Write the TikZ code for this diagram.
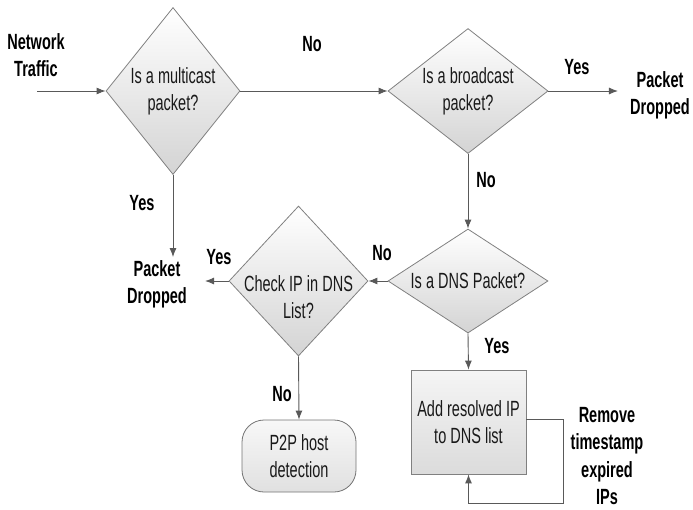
\documentclass[tikz,border=0pt]{standalone}
\usepackage{fontspec}
\setmainfont[FakeStretch=0.66]{Liberation Sans}
\usetikzlibrary{shapes.geometric,arrows.meta}
\begin{document}
\begin{tikzpicture}[x=1pt,y=-1pt,
  txt/.style={font=\fontsize{22}{27}\selectfont, text=black!90, align=center},
  dec/.style={diamond, txt, draw=black!50, line width=0.8pt, top color=white, bottom color=black!17, inner sep=-6pt},
  boxst/.style={rectangle, txt, draw=black!50, line width=0.8pt, top color=black!4, bottom color=black!14, inner sep=0pt},
  endst/.style={rectangle, txt, rounded corners=22pt, draw=black!55, line width=0.8pt, top color=black!3, bottom color=black!12, inner sep=0pt},
  lab/.style={font=\fontsize{22}{27}\selectfont\bfseries, text=black, align=center, inner sep=0pt},
  arr/.style={draw=black!65, line width=0.9pt, -{Latex[length=9pt,width=7pt]}}
]
\useasboundingbox (0,0) rectangle (693,509);

% decisions
\node[dec, aspect=0.8, minimum width=134pt, minimum height=167pt] (d1) at (173,91) {Is a multicast\\packet?};
\node[dec, aspect=1.28, minimum width=160pt, minimum height=125pt] (d2) at (468,91) {Is a broadcast\\packet?};
\node[dec, aspect=1.54, minimum width=160pt, minimum height=104pt] (d3) at (468,281) {Is a DNS Packet?};
\node[dec, aspect=0.93, minimum width=139pt, minimum height=150pt, inner xsep=-10pt, inner ysep=-15pt] (d4) at (298.5,281) {\rule{0pt}{48pt}Check IP in DNS\\List?};

% process boxes
\node[boxst, minimum width=115pt, minimum height=104pt] (add) at (468.5,422) {Add resolved IP\\to DNS list};
\node[endst, minimum width=114pt, minimum height=72pt] (p2p) at (299,456) {P2P host\\detection};

% text nodes
\node[lab] (net) at (36,55) {Network\\Traffic};
\node[lab, inner xsep=12pt, inner ysep=0pt] (pd1) at (660,95.5) {Packet\\Dropped};
\node[lab, inner xsep=18pt, inner ysep=3pt] (pd2) at (157,284) {Packet\\Dropped};
\node[lab, font=\fontsize{22}{27.5}\selectfont\bfseries] (rem) at (607,456) {Remove\\timestamp\\expired\\IPs};

% yes/no labels
\node[lab] (no1) at (312,44) {No};
\node[lab] (yes1) at (142,203) {Yes};
\node[lab] (yes2) at (577,67) {Yes};
\node[lab] (no2) at (486,180) {No};
\node[lab] (no3) at (382,253) {No};
\node[lab] (yes3) at (219,257) {Yes};
\node[lab] (no4) at (282,394) {No};
\node[lab] (yes4) at (497,346) {Yes};

% connectors
\coordinate (in) at (37,91);
\draw[arr] (in) -- (d1.west);
\draw[arr] (d1.east) -- (d2.west);
\draw[arr] (d2.east) -- (pd1.west |- d2.east);
\draw[arr] (d1.south) -- (d1.south |- pd2.north);
\draw[arr] (d2.south) -- (d3.north);
\draw[arr] (d3.west) -- (d4.east);
\draw[arr] (d4.west) -- (pd2.east |- d4.west);
\draw[arr] (d4.south) -- (p2p.north);
\draw[arr] (d3.south) -- (add.north);
\draw[arr] ([yshift=3pt]add.east) -- ++(37,0) |- ([yshift=-29pt]add.south) -- (add.south);
\end{tikzpicture}
\end{document}
